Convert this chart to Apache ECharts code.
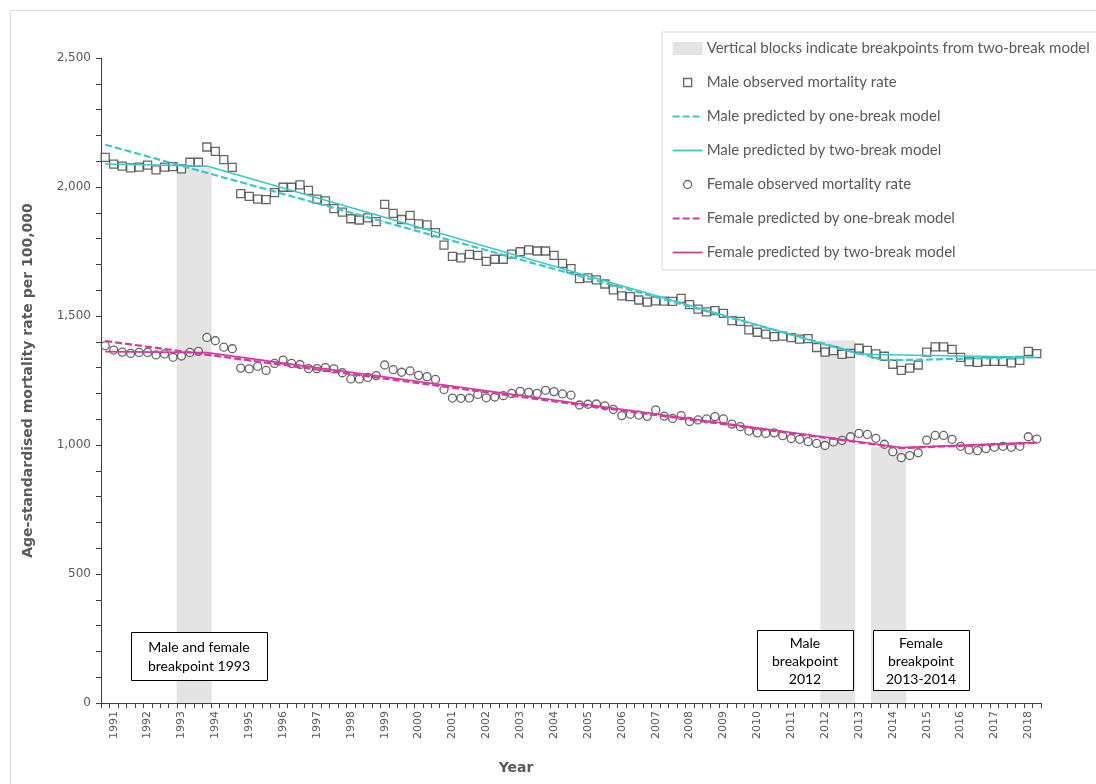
<!DOCTYPE html>
<html>
<head>
<meta charset="utf-8">
<script src="https://cdn.jsdelivr.net/npm/echarts@6/dist/echarts.min.js"></script>
<style>
  html, body { margin: 0; padding: 0; background: #fff; }
  #chart { width: 1096px; height: 784px; }
</style>
</head>
<body>
<div id="chart"></div>
<script>
// year tick labels (quarterly categories, first one is 1990 Q4)
const yearLabels = ['1991', '1992', '1993', '1994', '1995', '1996', '1997', '1998', '1999', '2000',
  '2001', '2002', '2003', '2004', '2005', '2006', '2007', '2008', '2009', '2010',
  '2011', '2012', '2013', '2014', '2015', '2016', '2017', '2018']

// observed age-standardised mortality per 100,000
const maleObserved = [
  2115, 2089, 2081, 2074, 2077, 2085, 2066, 2077, 2079, 2070,
  2096, 2096, 2155, 2138, 2106, 2076, 1974, 1964, 1953, 1951,
  1978, 1999, 1999, 2008, 1987, 1953, 1946, 1916, 1903, 1877,
  1872, 1880, 1866, 1933, 1898, 1874, 1890, 1857, 1853, 1823,
  1775, 1731, 1725, 1739, 1735, 1712, 1720, 1720, 1740, 1749,
  1756, 1752, 1752, 1735, 1704, 1684, 1645, 1648, 1640, 1624,
  1601, 1578, 1575, 1562, 1554, 1559, 1558, 1557, 1568, 1544,
  1527, 1516, 1521, 1510, 1482, 1479, 1446, 1437, 1430, 1420,
  1422, 1416, 1410, 1412, 1378, 1360, 1366, 1351, 1355, 1375,
  1367, 1353, 1344, 1313, 1289, 1298, 1310, 1360, 1380, 1380,
  1371, 1340, 1323, 1320, 1324, 1324, 1324, 1318, 1328, 1363,
  1354
]
const femaleObserved = [
  1385, 1368, 1360, 1355, 1359, 1359, 1349, 1353, 1340, 1345,
  1359, 1363, 1417, 1404, 1379, 1373, 1298, 1295, 1305, 1289,
  1316, 1329, 1316, 1312, 1296, 1296, 1300, 1295, 1280, 1256,
  1256, 1262, 1269, 1310, 1292, 1282, 1287, 1270, 1265, 1254,
  1215, 1182, 1181, 1182, 1196, 1183, 1186, 1191, 1200, 1208,
  1204, 1200, 1212, 1207, 1198, 1193, 1155, 1158, 1159, 1152,
  1138, 1114, 1119, 1116, 1111, 1136, 1112, 1103, 1114, 1091,
  1097, 1101, 1110, 1101, 1081, 1071, 1054, 1047, 1045, 1047,
  1036, 1025, 1022, 1013, 1006, 998, 1012, 1018, 1032, 1045,
  1041, 1026, 1003, 974, 951, 959, 970, 1019, 1037, 1037,
  1022, 995, 981, 978, 986, 991, 995, 991, 995, 1032,
  1023
]

// fitted models: [quarter index, rate] at start, breakpoints and end
const maleOneBreak = [[0, 2164], [92, 1328], [110, 1340]]
const maleTwoBreak = [[0, 2089], [12, 2081], [89, 1352], [110, 1340]]
const femaleOneBreak = [[0, 1403], [94, 988], [110, 1008]]
const femaleTwoBreak = [[0, 1362], [12, 1358], [94, 990], [110, 1010]]

// breakpoint blocks from the two-break model: [first quarter index, last quarter index, height]
const breakBlocks = [[9, 12, 2075], [85, 88, 1405], [91, 94, 992]]

const quarters = ['1990 Q4']
yearLabels.forEach(function (y) {
  ['Q1', 'Q2', 'Q3', 'Q4'].forEach(function (q) { quarters.push(y + ' ' + q) })
})
const categories = quarters.slice(0, maleObserved.length)

const blockData = categories.map(function () { return '-' })
breakBlocks.forEach(function (b) {
  for (let i = b[0]; i <= b[1]; i++) blockData[i] = b[2]
})

const teal = '#3cc8c8'
const pink = '#d33aa0'
const axisGrey = '#595959'

// legend icons (the leading moves fix the icon box to 30 x 13)
const iconBox = 'path://M0,0M30,13'
const iconSquare = iconBox + 'M11,2.5h8v8h-8z'
const iconCircle = iconBox + 'M11,6.5a4,4 0 1,0 8,0a4,4 0 1,0 -8,0z'
const iconSolid = iconBox + 'M0,5.6h30v1.8h-30z'
const iconDashed = iconBox + 'M0,5.4h7v2.2h-7zM10,5.4h7v2.2h-7zM20,5.4h7v2.2h-7z'

const chartBox = echarts.init(document.getElementById('chart'))

const option = {
  backgroundColor: '#fff',
  animation: false,
  grid: { left: 101, right: 55, top: 58, bottom: 81 },
  legend: {
    orient: 'vertical',
    left: 662,
    top: 32,
    padding: [9, 60, 10, 10],
    itemWidth: 30,
    itemHeight: 13,
    itemGap: 19,
    backgroundColor: '#fff',
    borderColor: '#d9d9d9',
    borderWidth: 1,
    textStyle: { fontFamily: 'Lato', fontSize: 15, color: axisGrey, padding: [0, 0, 0, -1] },
    data: [
      { name: 'Vertical blocks indicate breakpoints from two-break model', icon: 'rect' },
      { name: 'Male observed mortality rate', icon: iconSquare, itemStyle: { borderWidth: 1.3 } },
      { name: 'Male predicted by one-break model', icon: iconDashed },
      { name: 'Male predicted by two-break model', icon: iconSolid },
      { name: 'Female observed mortality rate', icon: iconCircle, itemStyle: { borderWidth: 1.3 } },
      { name: 'Female predicted by one-break model', icon: iconDashed },
      { name: 'Female predicted by two-break model', icon: iconSolid }
    ]
  },
  xAxis: {
    type: 'category',
    data: categories,
    boundaryGap: true,
    name: 'Year',
    nameLocation: 'middle',
    nameGap: 58,
    nameTextStyle: { fontFamily: 'DejaVu Sans', fontWeight: 'bold', fontSize: 14, color: axisGrey, padding: [0, 110, 0, 0] },
    axisLine: { lineStyle: { color: '#404040', width: 1 } },
    axisTick: { show: true, interval: 0, length: 5, lineStyle: { color: '#404040' } },
    axisLabel: {
      rotate: 90,
      interval: function (index) { return index % 4 === 1 },
      formatter: function (v) { return v.slice(0, 4) },
      fontFamily: 'DejaVu Sans',
      fontSize: 11,
      color: axisGrey,
      margin: 8
    },
    splitLine: { show: false }
  },
  yAxis: {
    type: 'value',
    min: 0,
    max: 2500,
    interval: 500,
    name: 'Age-standardised mortality rate per 100,000',
    nameLocation: 'middle',
    nameGap: 66,
    nameTextStyle: { fontFamily: 'DejaVu Sans', fontWeight: 'bold', fontSize: 14, color: axisGrey },
    axisLine: { show: true, lineStyle: { color: '#404040', width: 1 } },
    axisTick: { show: true, length: 5, lineStyle: { color: '#404040' } },
    minorTick: { show: true, splitNumber: 5, length: 5, lineStyle: { color: '#404040' } },
    axisLabel: {
      fontFamily: 'DejaVu Sans',
      fontSize: 12,
      color: axisGrey,
      margin: 10,
      formatter: function (v) { return v.toLocaleString('en-US') }
    },
    splitLine: { show: false }
  },
  series: [
    {
      name: 'Vertical blocks indicate breakpoints from two-break model',
      type: 'bar',
      data: blockData,
      barWidth: '114%',
      barGap: '-100%',
      itemStyle: { color: '#e4e4e4' },
      z: 1
    },
    {
      name: 'Male observed mortality rate',
      type: 'scatter',
      data: maleObserved,
      symbol: 'rect',
      symbolSize: 8,
      itemStyle: { color: '#fff', borderColor: '#404040', borderWidth: 1.3 },
      z: 3
    },
    {
      name: 'Male predicted by one-break model',
      type: 'line',
      data: maleOneBreak,
      symbol: 'none',
      lineStyle: { color: teal, width: 2.2, type: [7, 3] },
      itemStyle: { color: teal },
      z: 4
    },
    {
      name: 'Male predicted by two-break model',
      type: 'line',
      data: maleTwoBreak,
      symbol: 'none',
      lineStyle: { color: teal, width: 1.6 },
      itemStyle: { color: teal },
      z: 4
    },
    {
      name: 'Female observed mortality rate',
      type: 'scatter',
      data: femaleObserved,
      symbol: 'circle',
      symbolSize: 8,
      itemStyle: { color: '#fff', borderColor: '#404040', borderWidth: 1.3 },
      z: 3
    },
    {
      name: 'Female predicted by one-break model',
      type: 'line',
      data: femaleOneBreak,
      symbol: 'none',
      lineStyle: { color: pink, width: 2.2, type: [7, 3] },
      itemStyle: { color: pink },
      z: 4
    },
    {
      name: 'Female predicted by two-break model',
      type: 'line',
      data: femaleTwoBreak,
      symbol: 'none',
      lineStyle: { color: pink, width: 1.6 },
      itemStyle: { color: pink },
      z: 4
    }
  ],
  graphic: [
    {
      type: 'rect',
      silent: true,
      z: 0,
      shape: { x: 10.5, y: 10.5, width: 1200, height: 900 },
      style: { fill: 'none', stroke: '#d9d9d9', lineWidth: 1 }
    },
    {
      type: 'group',
      left: 131,
      top: 632,
      z: 100,
      children: [
        { type: 'rect', z: 100, shape: { x: 0.5, y: 0.5, width: 136, height: 48 }, style: { fill: '#fff', stroke: '#000', lineWidth: 1 } },
        { type: 'text', z: 101, x: 68, y: 25, style: { text: 'Male and female\nbreakpoint 1993', fontFamily: 'Lato', fontSize: 14, lineHeight: 19, fill: '#000', align: 'center', verticalAlign: 'middle' } }
      ]
    },
    {
      type: 'group',
      left: 757,
      top: 630,
      z: 100,
      children: [
        { type: 'rect', z: 100, shape: { x: 0.5, y: 0.5, width: 96, height: 60 }, style: { fill: '#fff', stroke: '#000', lineWidth: 1 } },
        { type: 'text', z: 101, x: 48, y: 31, style: { text: 'Male\nbreakpoint\n2012', fontFamily: 'Lato', fontSize: 14, lineHeight: 18, fill: '#000', align: 'center', verticalAlign: 'middle' } }
      ]
    },
    {
      type: 'group',
      left: 873,
      top: 630,
      z: 100,
      children: [
        { type: 'rect', z: 100, shape: { x: 0.5, y: 0.5, width: 96, height: 60 }, style: { fill: '#fff', stroke: '#000', lineWidth: 1 } },
        { type: 'text', z: 101, x: 48, y: 31, style: { text: 'Female\nbreakpoint\n2013-2014', fontFamily: 'Lato', fontSize: 14, lineHeight: 18, fill: '#000', align: 'center', verticalAlign: 'middle' } }
      ]
    }
  ]
}

chartBox.setOption(option, true)
window.addEventListener('resize', function () {
  chartBox.resize()
})
</script>
</body>
</html>
